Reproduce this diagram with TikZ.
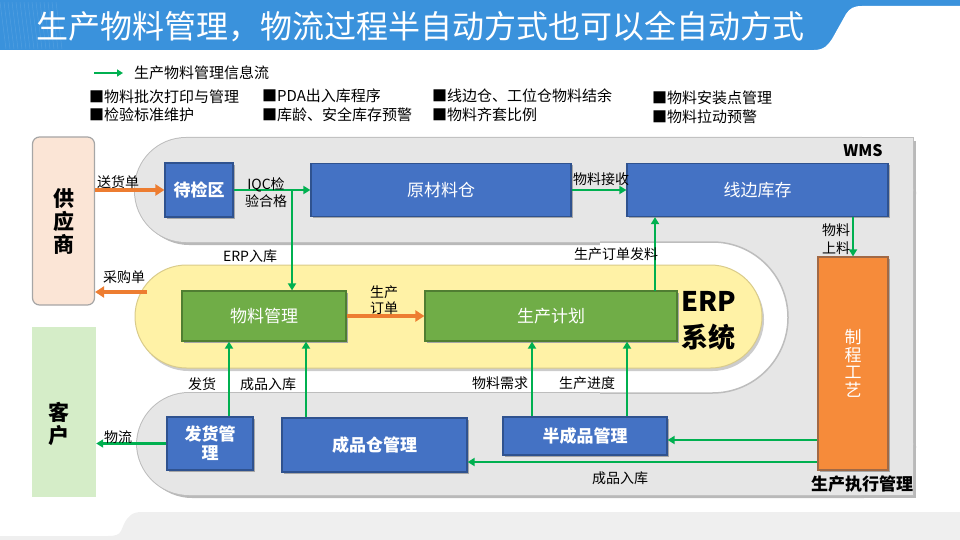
\documentclass[tikz,border=0pt]{standalone}
\usepackage{fontspec}
\setmainfont{Noto Sans CJK SC}
\usetikzlibrary{arrows.meta,calc}
\definecolor{titleblue}{HTML}{3A92DC}
\definecolor{boxblue}{HTML}{4472C4}
\definecolor{boxblueD}{HTML}{2F528F}
\definecolor{boxgreen}{HTML}{70AD47}
\definecolor{boxgreenD}{HTML}{507E32}
\definecolor{boxorange}{HTML}{F68B3A}
\definecolor{boxorangeD}{HTML}{B85A1E}
\definecolor{arrgreen}{HTML}{00B050}
\definecolor{arrorange}{HTML}{ED7D31}
\definecolor{wmsgray}{HTML}{E6E6E6}
\definecolor{wmsline}{HTML}{BDBDBD}
\definecolor{erpyellow}{HTML}{FFF2A6}
\definecolor{erpline}{HTML}{D9CB8A}
\definecolor{supfill}{HTML}{FBE5D6}
\definecolor{custfill}{HTML}{D5EDC8}
\definecolor{footgray}{HTML}{EFEFEF}
\tikzset{
  bluebox/.style={draw=boxblueD, line width=1.2pt, fill=boxblue, text=white, inner sep=0pt, align=center, font=\fontsize{17}{19}\selectfont},
  boldlabel/.style={font=\bfseries\fontsize{17}{19}\selectfont},
  greenbox/.style={draw=boxgreenD, line width=1.2pt, fill=boxgreen, text=white, inner sep=0pt, align=center, font=\fontsize{17}{19}\selectfont},
  orangebox/.style={draw=boxorangeD!60!gray, line width=1.2pt, fill=boxorange, text=white, inner sep=0pt, align=center, font=\fontsize{17}{17.5}\selectfont},
  garrow/.style={draw=arrgreen, line width=2.2pt, -{Triangle[length=7pt,width=8pt]}},
  oarrow/.style={draw=arrorange, line width=3.5pt, -{Triangle[length=9pt,width=11pt]}},
  lbl/.style={inner sep=0pt, align=center, font=\fontsize{14}{17}\selectfont},
  legtext/.style={inner sep=0pt, anchor=west, font=\fontsize{15}{17}\selectfont},
  boxshadow/.style={fill=black!35},
}
\newcommand{\wmsparts}[1]{%
  \path[#1,rounded corners=51pt] (135,138) rectangle (913,242);
  \path[#1,rounded corners=52pt] (137,393) rectangle (913,495);
  \path[#1] (700,138) rectangle (913,495);}
\begin{document}
\begin{tikzpicture}[x=1pt,y=-1pt]
\useasboundingbox (0,0) rectangle (960,540);
% title bar
\fill[titleblue] (0,0) rectangle (960,50);
\foreach \i in {0,4,...,56} \draw[white,opacity=0.12,line width=0.5pt] (\i,2) -- (\i+6,49);
\fill[white] (814,50) .. controls (824,50) and (828,45) .. (832,39) -- (846,14) .. controls (850,8) and (854,6) .. (862,6) -- (960,6) -- (960,50) -- cycle;
\node[anchor=west, inner sep=0pt, text=white, font=\fontsize{32}{36}\selectfont] (title) at (36,27) {生产物料管理，物流过程半自动方式也可以全自动方式};
% footer
\fill[footgray] (960,512) -- (142,512) .. controls (132,512) and (128,516) .. (124,524) -- (121,531) .. controls (119,535) and (115,536) .. (108,536) -- (0,536) -- (0,540) -- (960,540) -- cycle;
% legend
\coordinate (lg1) at (94,73);
\coordinate (lg2) at (123,73);
\draw[draw=arrgreen, line width=2.2pt, -{Triangle[length=6pt,width=7pt]}] (lg1) -- (lg2);
\node[legtext] (lgt) at (134,73) {生产物料管理信息流};
\node[legtext] (b1) at (89,97) {■物料批次打印与管理};
\node[legtext] (b2) at (89,115) {■检验标准维护};
\node[legtext] (b3) at (262,96) {■PDA出入库程序};
\node[legtext] (b4) at (262,115) {■库龄、安全库存预警};
\node[legtext] (b5) at (432,96) {■线边仓、工位仓物料结余};
\node[legtext] (b6) at (432,115) {■物料齐套比例};
\node[legtext] (b7) at (652,98) {■物料安装点管理};
\node[legtext] (b8) at (652,117) {■物料拉动预警};
% WMS region
\begin{scope}[shift={(3,3)}]
  \wmsparts{fill=gray!55}
\end{scope}
\wmsparts{fill=wmsgray, draw=wmsline, line width=2pt}
\wmsparts{fill=wmsgray}
\begin{scope}
  \clip (600,200) rectangle (960,450);
  \filldraw[fill=white, draw=wmsline, line width=1.5pt, rounded corners=75.5pt] (400,242) rectangle (788,393);
\end{scope}
% ERP region
\fill[gray!40, rounded corners=51.5pt] (137,268) rectangle (764,371);
\filldraw[fill=erpyellow, draw=erpline, line width=1pt, rounded corners=51.5pt] (135,265) rectangle (762,368);
% supplier and customer
\node[draw=gray!70, line width=1.2pt, fill=supfill, rounded corners=7pt, minimum width=62pt, minimum height=168pt, inner sep=0pt, align=center, font=\bfseries\fontsize{21}{23}\selectfont] (sup) at (63.5,221) {供\\应\\商};
\node[fill=custfill, minimum width=64pt, minimum height=170pt, inner sep=0pt] (kh) at (64,412) {};
\node[inner sep=0pt, align=center, font=\bfseries\fontsize{21}{23}\selectfont] (khtxt) at (59,424) {客\\户};
% box shadows
\fill[boxshadow] (167,165) rectangle (235,219);
\fill[boxshadow] (313,165) rectangle (573,218);
\fill[boxshadow] (629,165) rectangle (890,218);
\fill[boxshadow] (184,293) rectangle (348,343);
\fill[boxshadow] (427,293) rectangle (679,343);
\fill[boxshadow] (820,259) rectangle (890,472);
\fill[boxshadow] (169,419) rectangle (255,472);
\fill[boxshadow] (284,420) rectangle (469,474);
\fill[boxshadow] (505,419) rectangle (669,457);
% boxes
\node[bluebox, boldlabel, minimum width=68pt, minimum height=54pt] (djq) at (199,190) {待检区};
\node[bluebox, minimum width=260pt, minimum height=53pt] (ycl) at (441,190) {原材料仓};
\node[bluebox, minimum width=261pt, minimum height=53pt] (xbk) at (757.5,190) {线边库存};
\node[greenbox, minimum width=164pt, minimum height=50pt] (wlgl) at (264,316) {物料管理};
\node[greenbox, minimum width=252pt, minimum height=50pt] (sjh) at (551,316) {生产计划};
\node[orangebox, minimum width=70pt, minimum height=213pt] (zcgy) at (853,363.5) {制\\程\\工\\艺};
\node[bluebox, boldlabel, minimum width=86pt, minimum height=53pt] (fhgl) at (210,443.5) {发货管\\理};
\node[bluebox, boldlabel, minimum width=185pt, minimum height=54pt] (cpc) at (374.5,445) {成品仓管理};
\node[bluebox, boldlabel, minimum width=164pt, minimum height=38pt] (bcp) at (585,436) {半成品管理};
% titles in regions
\node[inner sep=0pt, font=\bfseries\fontsize{16}{18}\selectfont] (wms) at (863,151) {WMS};
\node[inner sep=0pt, font=\bfseries\fontsize{27}{30}\selectfont] (erp1) at (709,301) {ERP};
\node[inner sep=0pt, font=\bfseries\fontsize{27}{30}\selectfont] (erp2) at (708,337) {系统};
\node[inner sep=0pt, font=\bfseries\fontsize{17}{19}\selectfont] (sczx) at (862,484) {生产执行管理};
% connectors
\draw[oarrow] (sup.east |- djq.west) -- (djq.west);
\draw[garrow] (djq.east) -- (ycl.west);
\coordinate (j1) at (292,190);
\draw[garrow] (j1) -- (j1 |- wlgl.north);
\draw[garrow] (ycl.east) -- (xbk.west);
\coordinate (j2) at (655,291);
\draw[garrow] (j2) -- (j2 |- xbk.south);
\draw[garrow] (zcgy.north |- xbk.south) -- (zcgy.north);
\coordinate (c1) at (147,292);
\draw[oarrow] (c1) -- (c1 -| sup.east);
\draw[oarrow] (wlgl.east) -- (sjh.west);
\draw[garrow] ([xshift=19pt]fhgl.north) -- ([xshift=19pt]fhgl.north |- wlgl.south);
\draw[garrow] ([xshift=-68.5pt]cpc.north) -- ([xshift=-68.5pt]cpc.north |- wlgl.south);
\draw[garrow] ([xshift=-53pt]bcp.north) -- ([xshift=-53pt]bcp.north |- sjh.south);
\draw[garrow] ([xshift=42pt]bcp.north) -- ([xshift=42pt]bcp.north |- sjh.south);
\draw[garrow] (fhgl.west) -- (fhgl.west -| kh.east);
\coordinate (p1) at (0,440);
\coordinate (p2) at (0,462);
\draw[garrow] (zcgy.west |- p1) -- (bcp.east |- p1);
\draw[garrow] (zcgy.west |- p2) -- (cpc.east |- p2);
% connector labels
\node[lbl] (l1) at (118,182) {送货单};
\node[lbl, font=\fontsize{14}{17}\selectfont] (l2) at (266,193) {IQC检\\验合格};
\node[lbl] (l3) at (250,256) {ERP入库};
\node[lbl] (l4) at (601,179) {物料接收};
\node[lbl] (l5) at (616,254) {生产订单发料};
\node[lbl, font=\fontsize{14}{18}\selectfont] (l6) at (836,239) {物料\\上料};
\node[lbl] (l7) at (124,277) {采购单};
\node[lbl, font=\fontsize{14}{16}\selectfont] (l8) at (384,300) {生产\\订单};
\node[lbl] (l9) at (202,384) {发货};
\node[lbl] (l10) at (268,384) {成品入库};
\node[lbl] (l11) at (500,383) {物料需求};
\node[lbl] (l12) at (587,383) {生产进度};
\node[lbl] (l13) at (118,437) {物流};
\node[lbl] (l14) at (620,478) {成品入库};
\end{tikzpicture}
\end{document}
